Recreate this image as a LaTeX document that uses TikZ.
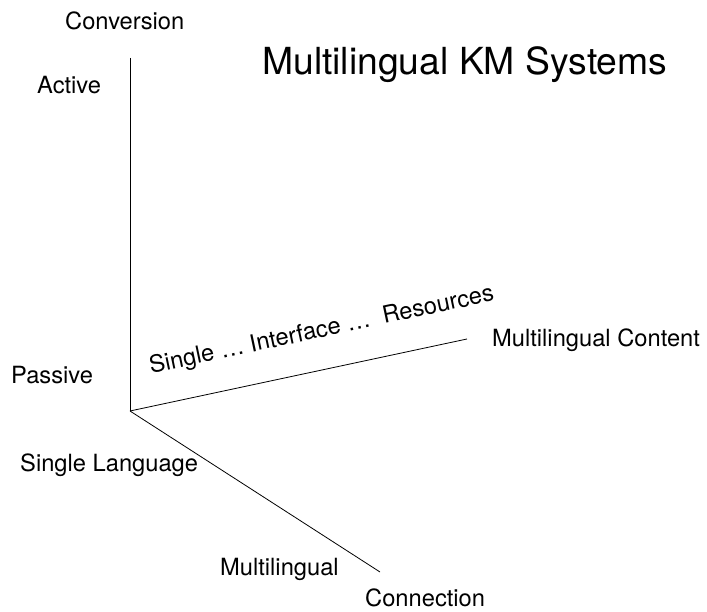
\documentclass[tikz,border=0pt]{standalone}
\usepackage{fontspec}
\setmainfont{TeX Gyre Heros}
\usepackage{tikz}
\usetikzlibrary{positioning}

\begin{document}
\begin{tikzpicture}[
    x=1pt, y=1pt,
    axislabel/.style={anchor=base west, inner sep=0pt, font=\fontsize{23.7}{28}\selectfont},
    heading/.style={anchor=base west, inner sep=0pt, font=\fontsize{37.3}{44}\selectfont},
    axisline/.style={black, line width=0.8pt}
]
\useasboundingbox (0,0) rectangle (707,612);
\coordinate (origin) at (130,201);
\coordinate (conv) at (130,554);
\coordinate (cont) at (467,273);
\coordinate (conn) at (380,40);
\draw[axisline] (conv) -- (origin);
\draw[axisline] (origin) -- (cont);
\draw[axisline] (origin) -- (conn);
\node[heading] (title) at (262,537) {Multilingual KM Systems};
\node[axislabel] (conversion) at (65,582) {Conversion};
\node[axislabel] (active) at (37,518) {Active};
\node[axislabel] (passive) at (11,228) {Passive};
\node[axislabel] (single) at (20,140) {Single Language};
\node[axislabel] (multi) at (220,36) {Multilingual};
\node[axislabel] (connection) at (365,5) {Connection};
\node[axislabel] (content) at (492,265) {Multilingual Content};
\node[axislabel, anchor=base, rotate=12] (scale) at (323,275) {Single … Interface …\ \ Resources};
\end{tikzpicture}
\end{document}
